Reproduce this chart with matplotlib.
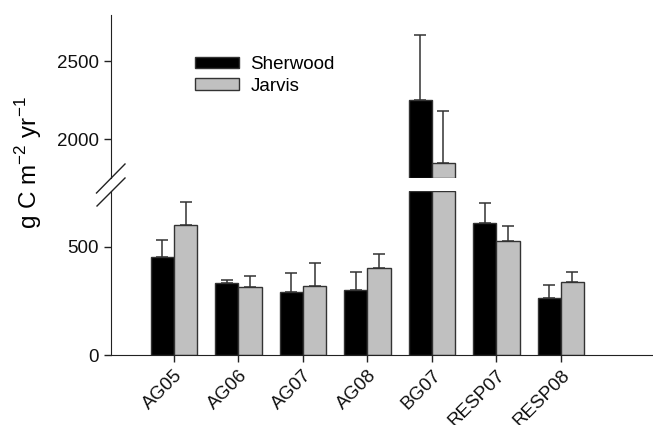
import matplotlib
matplotlib.use("Agg")
import matplotlib.pyplot as plt
import numpy as np
from matplotlib.lines import Line2D

plt.rcParams['font.family'] = ['Liberation Sans', 'DejaVu Sans']
plt.rcParams['mathtext.fontset'] = 'custom'
plt.rcParams['mathtext.rm'] = 'Liberation Sans'

categories = ['AG05', 'AG06', 'AG07', 'AG08', 'BG07', 'RESP07', 'RESP08']
sherwood = [452, 333, 289, 301, 2252, 608, 265]
sherwood_err = [77, 14, 88, 80, 417, 94, 59]
jarvis = [602, 312, 318, 403, 1850, 525, 335]
jarvis_err = [102, 52, 106, 65, 333, 71, 46]

low_lim = (0, 757)
high_lim = (1753, 2794)

W, H = 653, 425
fig = plt.figure(figsize=(W/100, H/100), dpi=100)

def fx(px): return px / W
def fy(py): return 1 - py / H

ax_lo = fig.add_axes([fx(111), fy(355), 1 - fx(111), fy(191) - fy(355)])
ax_hi = fig.add_axes([fx(111), fy(178), 1 - fx(111), fy(15) - fy(178)])

x = np.arange(len(categories))
w = 0.36
edge = '#333333'
gray = '#c0c0c0'
ekw = dict(ecolor=edge, elinewidth=1.1, capsize=4.5, capthick=1.1)
fs = 13.5

s = np.array(sherwood, float); j = np.array(jarvis, float)
se = np.array(sherwood_err, float); je = np.array(jarvis_err, float)

# lower axis
for vals, errs, col, off in [(s, se, 'black', -w/2), (j, je, gray, w/2)]:
    h = np.minimum(vals, low_lim[1])
    ax_lo.bar(x + off, h, width=w, color=col, edgecolor=edge, linewidth=1.0, zorder=2)
    m = vals <= low_lim[1]
    ax_lo.errorbar(x[m] + off, vals[m], yerr=[np.zeros(m.sum()), errs[m]], fmt='none', zorder=1, **ekw)

# upper axis
for vals, errs, col, off, lab in [(s, se, 'black', -w/2, 'Sherwood'), (j, je, gray, w/2, 'Jarvis')]:
    m = vals > low_lim[1]
    ax_hi.bar(x[m] + off, vals[m] - high_lim[0], bottom=high_lim[0], width=w, color=col,
              edgecolor=edge, linewidth=1.0, zorder=2, label=lab)
    ax_hi.errorbar(x[m] + off, vals[m], yerr=[np.zeros(m.sum()), errs[m]], fmt='none', zorder=1, **ekw)

xl = (-0.977, 7.43)
for ax in (ax_lo, ax_hi):
    ax.set_xlim(*xl)
    ax.spines['top'].set_visible(False)
    ax.spines['right'].set_visible(False)
    ax.spines['left'].set_color('#222222')
    ax.tick_params(axis='y', direction='out', length=5, width=1, labelsize=fs, colors='#222222', labelcolor='#111111')
    ax.patch.set_visible(False)

ax_lo.set_ylim(*low_lim)
ax_lo.set_yticks([0, 500])
ax_lo.set_xticks(x)
ax_lo.set_xticklabels(categories, rotation=45, ha='right', rotation_mode='anchor', fontsize=fs)
ax_lo.tick_params(axis='x', direction='out', length=5, width=1, colors='#222222', labelcolor='#111111')
ax_lo.spines['bottom'].set_color('#222222')

ax_hi.set_ylim(*high_lim)
ax_hi.set_yticks([2000, 2500])
ax_hi.spines['bottom'].set_visible(False)
ax_hi.tick_params(axis='x', bottom=False, labelbottom=False)

leg = ax_hi.legend(loc='upper left', bbox_to_anchor=((195 - 111) / (W - 111), (178 - 56) / 163),
                   frameon=False, fontsize=fs, handlelength=2.35, handleheight=0.55,
                   handletextpad=0.6, labelspacing=0.25, borderaxespad=0, borderpad=0)

# break marks
for (x0, y0, x1, y1) in [(96.5, 193, 125, 164), (97, 206, 125, 178)]:
    fig.add_artist(Line2D([fx(x0), fx(x1)], [fy(y0), fy(y1)], color='#222222', lw=1.0))

fig.text(fx(29), fy(163), r'g C m$^{\mathregular{-2}}$ yr$^{\mathregular{-1}}$', rotation=90,
         ha='center', va='center', fontsize=17.5)

fig.savefig('out.png', dpi=100)
